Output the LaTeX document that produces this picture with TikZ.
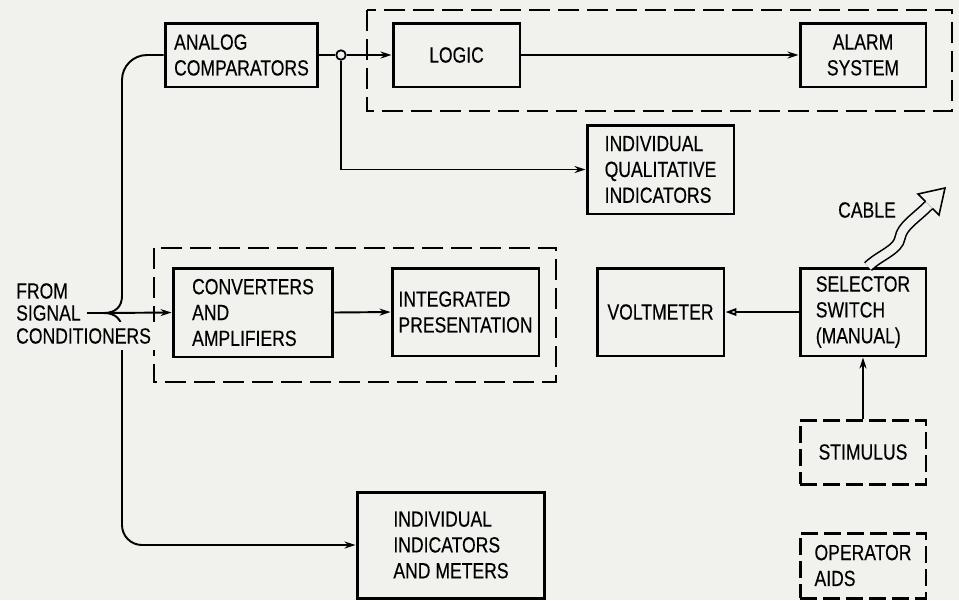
\documentclass[tikz,border=0pt]{standalone}
\usepackage{fontspec}
\setmainfont{Liberation Sans}[FakeStretch=0.8, FakeBold=0.3]
\usepackage{tikz}
\usetikzlibrary{arrows.meta}
\definecolor{paper}{RGB}{241,241,238}

\begin{document}
\begin{tikzpicture}[x=0.02cm, y=-0.02cm,
    every node/.style={font=\fontsize{12.5}{14.7}\selectfont},
    block/.style={draw, line width=1.7pt, align=left, inner sep=2pt},
    dashblock/.style={block, dash pattern=on 0.34cm off 0.12cm},
    group/.style={line width=1.1pt, dash pattern=on 0.42cm off 0.16cm},
    link/.style={line width=1.1pt, -{Stealth[length=0.22cm, width=0.14cm]}},
    plain/.style={line width=1.1pt}]
    \path[use as bounding box, fill=paper] (0,0) rectangle (959,600);

    % blocks
    \node[block, minimum width=3.06cm, minimum height=1.28cm] (anc) at (241.5,55) {ANALOG\\COMPARATORS};
    \node[block, minimum width=2.54cm, minimum height=1.28cm] (logic) at (456.5,55) {LOGIC};
    \node[block, align=center, minimum width=2.52cm, minimum height=1.28cm] (alarm) at (863,55) {ALARM\\SYSTEM};
    \node[block, minimum width=2.94cm, minimum height=1.78cm] (qual) at (660.5,169.5) {INDIVIDUAL\\QUALITATIVE\\INDICATORS};
    \node[block, minimum width=3.2cm, minimum height=1.78cm] (conv) at (253,312.5) {CONVERTERS\\AND\\AMPLIFIERS};
    \node[block, minimum width=2.94cm, minimum height=1.76cm] (integ) at (465.5,312) {INTEGRATED\\PRESENTATION};
    \node[block, minimum width=2.54cm, minimum height=1.76cm] (volt) at (660.5,312) {VOLTMETER};
    \node[block, minimum width=2.52cm, minimum height=1.76cm] (sel) at (863,312) {SELECTOR\\SWITCH\\(MANUAL)};
    \node[dashblock, minimum width=2.52cm, minimum height=1.28cm] (stim) at (863,452) {STIMULUS};
    \node[dashblock, minimum width=2.52cm, minimum height=1.30cm] (aids) at (863,565.5) {OPERATOR\\AIDS};
    \node[block, minimum width=3.76cm, minimum height=2.12cm] (ind) at (451,545) {INDIVIDUAL\\INDICATORS\\AND METERS};

    % dashed groups
    \draw[group] (367,10) rectangle (952,111);
    \draw[group] (154,248) rectangle (556,382);

    % input side
    \node[anchor=west] (from) at (10,291) {FROM};
    \node[anchor=west] (signal) at (10,313) {SIGNAL};
    \coordinate (fork) at (104,313);
    \draw[plain] (signal.east) -- (fork);
    \draw[link] (fork) -- (conv.west);
    \draw[plain] (fork) .. controls (116,313) and (122,306) .. (122,296) [rounded corners=0.5cm] |- (anc.west);
    \draw[link] (fork) .. controls (116,313) and (122,320) .. (122,330) [rounded corners=0.4cm] |- (ind.west);
    \node[anchor=west, fill=paper] (cond) at (10,336) {CONDITIONERS};

    % comparator outputs
    \node[circle, draw, line width=1pt, fill=paper, minimum size=0.19cm, inner sep=0pt] (jn) at (341,55) {};
    \draw[plain] (anc.east) -- (jn.west);
    \draw[link] (jn.east) -- (logic.west);
    \draw[link] (jn.south) |- (qual.west);
    \draw[link] (logic.east) -- (alarm.west);
    \draw[link] (conv.east) -- (integ.west);

    % switch side
    \draw[line width=1.1pt, -{Triangle[open, length=0.22cm, width=0.15cm]}] (sel.west) -- (volt.east);
    \draw[link] (stim.north) -- (sel.south);

    % cable
    \node (cablelbl) at (867,210) {CABLE};
    \draw[line width=0.9pt, double=paper, double distance=0.17cm] ([xshift=0.1cm]sel.north) .. controls (880,255) and (898,250) .. (900,238) .. controls (902,226) and (915,219) .. (929,205);
    \draw[line width=0.9pt] (925.4,201.4) -- (918,194) -- (945,188) -- (939,215) -- (932.6,208.6);
\end{tikzpicture}
\end{document}
